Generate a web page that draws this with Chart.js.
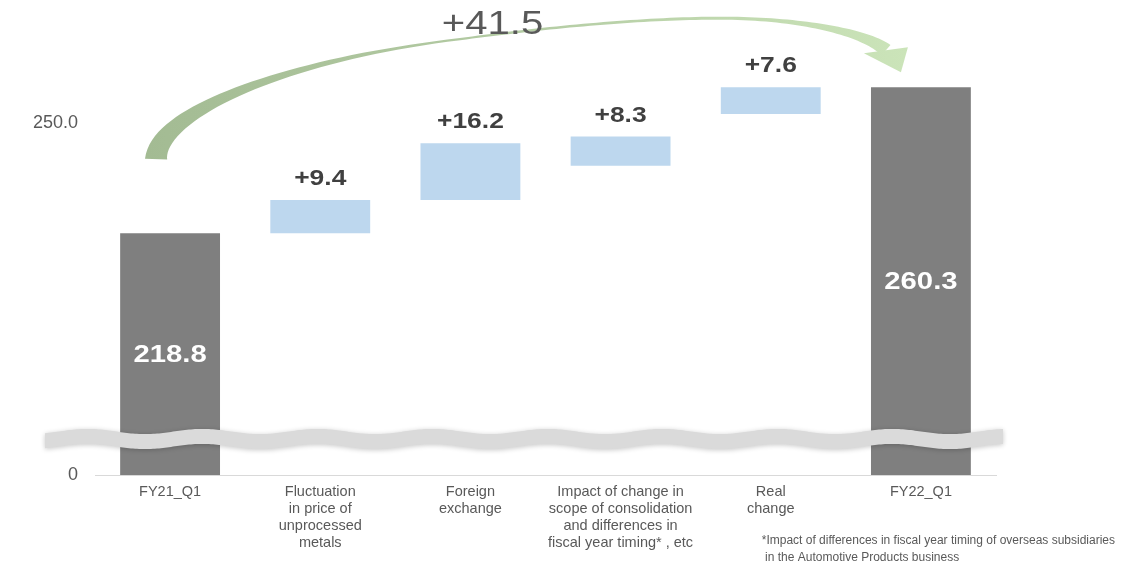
<!DOCTYPE html>
<html>
<head>
<meta charset="utf-8">
<script src="https://cdn.jsdelivr.net/npm/chart.js@4.4.1/dist/chart.umd.min.js"></script>
<style>
  html, body { margin: 0; padding: 0; background: #fff; }
  #wrap { width: 1127px; height: 565px; }
</style>
</head>
<body>
<div id="wrap"><canvas id="myChart" width="1127" height="565"></canvas></div>
<script>
const categories = [
  "FY21_Q1",
  ["Fluctuation", "in price of", "unprocessed", "metals"],
  ["Foreign", "exchange"],
  ["Impact of change in", "scope of consolidation", "and differences in", "fiscal year timing* , etc"],
  ["Real", "change"],
  "FY22_Q1"
];
const startTotal = 218.8;
const endTotal = 260.3;
const changes = [9.4, 16.2, 8.3, 7.6];
// where each change bar starts, as it sits in the picture
const changeBase = [218.8, 228.2, 238.0, 252.7];
const totalChange = 41.5;
const axisFloor = 150;   // bottom of the cut axis, shown as "0"
const axisTop = 280;
const yTicks = [150, 250];
const footnote = [
  "*Impact of differences in fiscal year timing of overseas subsidiaries",
  " in the Automotive Products business"
];

const FONT = "'Liberation Sans', Arial, sans-serif";
const GREY = "#7f7f7f";
const BLUE = "#bdd7ee";

const barData = [[axisFloor, startTotal]];
changes.forEach((c, i) => barData.push([changeBase[i], changeBase[i] + c]));
barData.push([axisFloor, endTotal]);
const barColors = barData.map((d, i) => (i === 0 || i === barData.length - 1) ? GREY : BLUE);

// text drawn a bit wider, like the source slide
function wideText(ctx, txt, x, y, font, color, sx) {
  ctx.save();
  ctx.font = font;
  ctx.fillStyle = color;
  ctx.textAlign = "center";
  ctx.textBaseline = "middle";
  ctx.translate(x, y);
  ctx.scale(sx, 1);
  ctx.fillText(txt, 0, 0);
  ctx.restore();
}

function bez(p, t) {
  const u = 1 - t;
  return {
    x: u*u*u*p[0].x + 3*u*u*t*p[1].x + 3*u*t*t*p[2].x + t*t*t*p[3].x,
    y: u*u*u*p[0].y + 3*u*u*t*p[1].y + 3*u*t*t*p[2].y + t*t*t*p[3].y
  };
}
function bezD(p, t) {
  const u = 1 - t;
  return {
    x: 3*u*u*(p[1].x-p[0].x) + 6*u*t*(p[2].x-p[1].x) + 3*t*t*(p[3].x-p[2].x),
    y: 3*u*u*(p[1].y-p[0].y) + 6*u*t*(p[2].y-p[1].y) + 3*t*t*(p[3].y-p[2].y)
  };
}

function drawArrow(ctx, A, B) {
  const P = (o, dx, dy) => ({ x: o.x + dx, y: o.y + dy });
  const segs = [
    [P(A,-14,-74), P(A,-12,-122), P(A,120,-174), P(A,290,-194)],
    [P(A,290,-194), P(A,370,-205), P(A,470,-215), P(A,550,-215)],
    [P(A,550,-215), P(B,-121,-69), P(B,-56,-55), P(B,-35,-37)]
  ];
  const widthAt = (k, t) => {
    if (k === 0) return 2.2 + 20 * Math.pow(1 - t, 1.6);
    if (k === 1) return 2.2 + 0.8 * t;
    return 3 + 11 * Math.pow(t, 1.8);
  };
  const left = [], right = [];
  segs.forEach((s, k) => {
    for (let i = 0; i <= 40; i++) {
      const t = i / 40;
      const p = bez(s, t), d = bezD(s, t);
      const len = Math.hypot(d.x, d.y) || 1;
      const nx = -d.y / len, ny = d.x / len;
      const w = widthAt(k, t) / 2;
      left.push({ x: p.x + nx * w, y: p.y + ny * w });
      right.push({ x: p.x - nx * w, y: p.y - ny * w });
    }
  });
  const g = ctx.createLinearGradient(A.x - 25, 0, B.x - 15, 0);
  g.addColorStop(0, "#a3bb93");
  g.addColorStop(0.5, "#b4cca4");
  g.addColorStop(1, "#cbe4b9");
  ctx.save();
  ctx.fillStyle = g;
  ctx.beginPath();
  ctx.moveTo(left[0].x, left[0].y);
  left.forEach(p => ctx.lineTo(p.x, p.y));
  for (let i = right.length - 1; i >= 0; i--) ctx.lineTo(right[i].x, right[i].y);
  ctx.closePath();
  ctx.fill();
  // head
  ctx.beginPath();
  const h1 = P(B,-57,-34), h2 = P(B,-13,-40), tip = P(B,-20,-15);
  ctx.moveTo(h1.x, h1.y);
  ctx.lineTo(h2.x, h2.y);
  ctx.lineTo(tip.x, tip.y);
  ctx.closePath();
  ctx.fill();
  ctx.restore();
}

function drawBreak(ctx, x0, x1, yc) {
  const lam = 115, amp = 2.6, half = 7.5;
  const yAt = x => yc + amp * Math.cos(2 * Math.PI * (x - 145) / lam);
  ctx.save();
  ctx.shadowColor = "rgba(0,0,0,0.22)";
  ctx.shadowBlur = 5;
  ctx.shadowOffsetY = 1;
  ctx.fillStyle = "#dadada";
  ctx.beginPath();
  ctx.moveTo(x0, yAt(x0) - half);
  for (let x = x0; x <= x1; x += 2) ctx.lineTo(x, yAt(x) - half);
  for (let x = x1; x >= x0; x -= 2) ctx.lineTo(x, yAt(x) + half);
  ctx.closePath();
  ctx.fill();
  ctx.restore();
}

const annotations = {
  id: "annotations",
  afterDatasetsDraw(chart) {
    const ctx = chart.ctx;
    const bars = chart.getDatasetMeta(0).data;
    const ca = chart.chartArea;
    const ys = chart.scales.y;

    drawBreak(ctx, ca.left - 50, ca.right + 7, ys.getPixelForValue(axisFloor) - 36);

    const last = bars.length - 1;
    bars.forEach((b, i) => {
      if (i === 0 || i === last) {
        const v = i === 0 ? startTotal : endTotal;
        wideText(ctx, v.toFixed(1), b.x, (b.y + b.base) / 2 + 1, "bold 24px " + FONT, "#ffffff", 1.22);
      } else {
        wideText(ctx, "+" + changes[i - 1].toFixed(1), b.x, b.y - 21, "bold 22px " + FONT, "#404040", 1.2);
      }
    });

    const A = { x: bars[0].x, y: bars[0].y };
    const B = { x: bars[last].x, y: bars[last].y };
    drawArrow(ctx, A, B);
    wideText(ctx, "+" + totalChange.toFixed(1), (A.x + B.x) / 2 - 53, B.y - 63, "34px " + FONT, "#595959", 1.18);

    ctx.save();
    ctx.fillStyle = "#595959";
    ctx.font = "12px " + FONT;
    ctx.textAlign = "left";
    ctx.textBaseline = "alphabetic";
    ctx.fillText(footnote[0], bars[4].x - 9, 544);
    ctx.fillText(footnote[1], bars[4].x - 9, 561);
    ctx.restore();
  }
};

new Chart("myChart", {
  type: "bar",
  data: {
    labels: categories,
    datasets: [{
      data: barData,
      backgroundColor: barColors,
      borderWidth: 0,
      barPercentage: 0.665,
      categoryPercentage: 1
    }]
  },
  options: {
    responsive: false,
    animation: false,
    devicePixelRatio: 1,
    layout: { padding: { top: 18, right: 131, left: 0, bottom: 0 } },
    plugins: { legend: { display: false }, tooltip: { enabled: false } },
    scales: {
      x: {
        grid: { display: false, drawTicks: false },
        border: { display: true, color: "#d9d9d9", width: 1 },
        ticks: {
          color: "#595959",
          font: { family: FONT, size: 14.5, lineHeight: 1.17 },
          padding: 9,
          maxRotation: 0,
          autoSkip: false
        },
        afterFit(s) { s.height = 90; }
      },
      y: {
        min: axisFloor,
        max: axisTop,
        grid: { display: false, drawTicks: false },
        border: { display: false },
        afterBuildTicks(s) { s.ticks = yTicks.map(v => ({ value: v })); },
        ticks: {
          color: "#595959",
          font: { family: FONT, size: 18 },
          padding: 17,
          callback: v => v === axisFloor ? "0" : v.toFixed(1)
        },
        afterFit(s) {
          s.width = 95;
          s.paddingTop = 0;
          s.paddingBottom = 0;
        }
      }
    }
  },
  plugins: [annotations]
});
</script>
</body>
</html>
